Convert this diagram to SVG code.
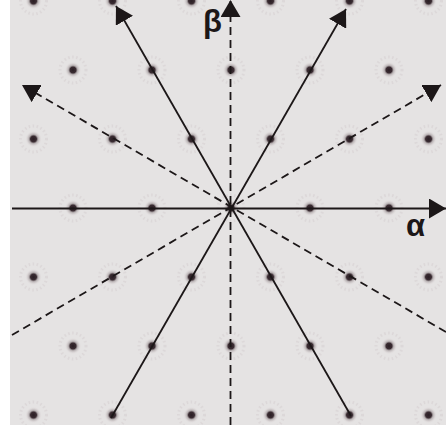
<svg xmlns="http://www.w3.org/2000/svg" xmlns:xlink="http://www.w3.org/1999/xlink" width="446" height="425" viewBox="0 0 446 425">
<style>
.ax{stroke:#1c1718;stroke-width:1.8;fill:none}
.dash{stroke-dasharray:8 5}
.lbl{font-family:"Liberation Sans","DejaVu Sans",sans-serif;font-weight:bold;font-size:31px;fill:#1c1718}
</style>
<defs>
<radialGradient id="halo">
<stop offset="0" stop-color="#2a1e24"/>
<stop offset="0.35" stop-color="#3a2c32"/>
<stop offset="0.55" stop-color="#a8a0a2" stop-opacity="0.7"/>
<stop offset="0.8" stop-color="#d8d2d3" stop-opacity="0.5"/>
<stop offset="1" stop-color="#e6e4e4" stop-opacity="0"/>
</radialGradient>
<g id="dot">
<circle r="13" fill="none" stroke="#d9d3d4" stroke-width="3" stroke-dasharray="1.5 2.5" opacity="0.7"/>
<circle r="8.5" fill="url(#halo)"/>
</g>
<marker id="arr" markerUnits="userSpaceOnUse" markerWidth="18" markerHeight="20" refX="17" refY="10" orient="auto">
<path d="M0,0 L17,10 L0,20 Z" fill="#1c1718"/>
</marker>
</defs>
<rect width="446" height="425" fill="#ffffff"/>
<rect x="10" y="0" width="436" height="425" fill="#e5e3e3"/>
<g id="lattice">
<use xlink:href="#dot" x="33.5" y="1"/><use xlink:href="#dot" x="112.5" y="1"/><use xlink:href="#dot" x="191.5" y="1"/><use xlink:href="#dot" x="270.5" y="1"/><use xlink:href="#dot" x="349.5" y="1"/><use xlink:href="#dot" x="428.5" y="1"/>
<use xlink:href="#dot" x="73" y="70"/><use xlink:href="#dot" x="152" y="70"/><use xlink:href="#dot" x="231" y="70"/><use xlink:href="#dot" x="310" y="70"/><use xlink:href="#dot" x="389" y="70"/>
<use xlink:href="#dot" x="33.5" y="139"/><use xlink:href="#dot" x="112.5" y="139"/><use xlink:href="#dot" x="191.5" y="139"/><use xlink:href="#dot" x="270.5" y="139"/><use xlink:href="#dot" x="349.5" y="139"/><use xlink:href="#dot" x="428.5" y="139"/>
<use xlink:href="#dot" x="73" y="208"/><use xlink:href="#dot" x="152" y="208"/><use xlink:href="#dot" x="231" y="208"/><use xlink:href="#dot" x="310" y="208"/><use xlink:href="#dot" x="389" y="208"/>
<use xlink:href="#dot" x="33.5" y="277"/><use xlink:href="#dot" x="112.5" y="277"/><use xlink:href="#dot" x="191.5" y="277"/><use xlink:href="#dot" x="270.5" y="277"/><use xlink:href="#dot" x="349.5" y="277"/><use xlink:href="#dot" x="428.5" y="277"/>
<use xlink:href="#dot" x="73" y="346"/><use xlink:href="#dot" x="152" y="346"/><use xlink:href="#dot" x="231" y="346"/><use xlink:href="#dot" x="310" y="346"/><use xlink:href="#dot" x="389" y="346"/>
<use xlink:href="#dot" x="33.5" y="415"/><use xlink:href="#dot" x="112.5" y="415"/><use xlink:href="#dot" x="191.5" y="415"/><use xlink:href="#dot" x="270.5" y="415"/><use xlink:href="#dot" x="349.5" y="415"/><use xlink:href="#dot" x="428.5" y="415"/>
</g>
<g id="connectors">
<line class="ax" x1="12" y1="208.5" x2="446" y2="208.5" marker-end="url(#arr)"/>
<line class="ax dash" x1="230.5" y1="425" x2="230.5" y2="0" marker-end="url(#arr)"/>
<line class="ax" x1="111" y1="418" x2="346" y2="9" marker-end="url(#arr)"/>
<line class="ax" x1="351" y1="416" x2="116" y2="6" marker-end="url(#arr)"/>
<line class="ax dash" x1="12" y1="335" x2="441" y2="85" marker-end="url(#arr)"/>
<line class="ax dash" x1="446" y1="332" x2="22" y2="85" marker-end="url(#arr)"/>
</g>
<g id="label-alpha"><text class="lbl" x="406" y="236">α</text></g>
<g id="label-beta"><text class="lbl" x="203" y="32">β</text></g>
</svg>
